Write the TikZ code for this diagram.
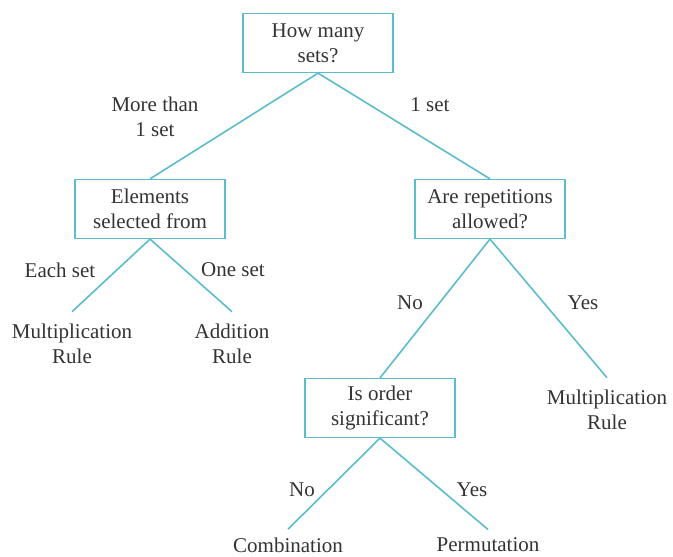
\documentclass[tikz,border=0pt]{standalone}
\usepackage{fontspec}
\setmainfont{Liberation Serif}
\definecolor{branchcol}{HTML}{5BBCCB}
\definecolor{textcol}{HTML}{333333}

\begin{document}
\begin{tikzpicture}[x=0.5pt,y=-0.5pt,
    every node/.style={text=textcol,align=center,font=\fontsize{10.5}{12.5}\selectfont},
    question/.style={draw=branchcol,line width=0.6pt,minimum width=75pt,minimum height=29.5pt},
    answer/.style={inner sep=6pt},
    branch/.style={draw=branchcol,line width=0.8pt}]
    \useasboundingbox (0,0) rectangle (673,556);

    % Questions
    \node[question] (sets) at (318,43) {How many\\sets?};
    \node[question] (elem) at (150,209) {Elements\\selected from};
    \node[question] (rep) at (490,209) {Are repetitions\\allowed?};
    \node[question] (order) at (380,408) {Is order\\significant?};

    % Results
    \node[answer] (multL) at (72,344) {Multiplication\\Rule};
    \node[answer] (add) at (232,344) {Addition\\Rule};
    \node[answer] (multR) at (607,410) {Multiplication\\Rule};
    \node[answer,inner sep=4pt] (comb) at (288,545) {Combination};
    \node[answer,inner sep=4pt] (perm) at (488,545) {Permutation};

    % Branches
    \draw[branch] (sets.south) -- (elem.north);
    \draw[branch] (sets.south) -- (rep.north);
    \draw[branch] (elem.south) -- (multL.north);
    \draw[branch] (elem.south) -- (add.north);
    \draw[branch] (rep.south) -- (order.north);
    \draw[branch] (rep.south) -- (multR.north);
    \draw[branch] (order.south) -- (comb.north);
    \draw[branch] (order.south) -- (perm.north);

    % Branch labels
    \node (lblMore) at (155,117) {More than\\1 set};
    \node (lblOne) at (430,105) {1 set};
    \node (lblEach) at (60,270) {Each set};
    \node (lblOneSet) at (233,270) {One set};
    \node (lblRepNo) at (410,303) {No};
    \node (lblRepYes) at (583,303) {Yes};
    \node (lblOrdNo) at (302,490) {No};
    \node (lblOrdYes) at (472,490) {Yes};
\end{tikzpicture}
\end{document}
